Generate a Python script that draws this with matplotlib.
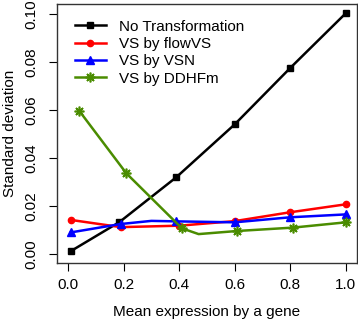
import matplotlib
matplotlib.use('Agg')
from matplotlib import pyplot

# data
x_none = [0.01, 0.185, 0.39, 0.60, 0.80, 1.00]
y_none = [0.0012, 0.0133, 0.0320, 0.0540, 0.0775, 0.1003]

x_flow = [0.01, 0.19, 0.40, 0.60, 0.80, 1.00]
y_flow = [0.0142, 0.0112, 0.0118, 0.0137, 0.0174, 0.0207]

x_vsn = [0.01, 0.19, 0.30, 0.39, 0.60, 0.80, 1.00]
y_vsn = [0.0090, 0.0125, 0.0138, 0.0136, 0.0132, 0.0153, 0.0165]

x_ddhf = [0.04, 0.21, 0.41, 0.47, 0.61, 0.81, 1.00]
y_ddhf = [0.0597, 0.0336, 0.0107, 0.0083, 0.0096, 0.0110, 0.0132]

labels = ['No Transformation', 'VS by flowVS', 'VS by VSN', 'VS by DDHFm']

pyplot.rcParams['font.family'] = ['Liberation Sans', 'DejaVu Sans']
fs = 11

fig = pyplot.figure(figsize=(3.58, 3.21), dpi=100)
ax = fig.add_axes([0.159, 0.181, 0.838, 0.807])

lw = 1.8
ax.plot(x_none, y_none, '-', color='black', lw=lw, marker='s', ms=4.5, label=labels[0])
ax.plot(x_flow, y_flow, '-', color='red', lw=lw, marker='o', ms=4.5, label=labels[1])
ax.plot(x_vsn, y_vsn, '-', color='blue', lw=lw, marker='^', ms=5.5,
        markevery=[0, 1, 3, 4, 5, 6], label=labels[2])
ax.plot(x_ddhf, y_ddhf, '-', color='#4a8c00', lw=lw, marker=(8, 2, 0), ms=7, mew=1.2,
        markevery=[0, 1, 2, 4, 5, 6], label=labels[3])

ax.set_xlim(-0.04, 1.04)
ax.set_ylim(-0.0037, 0.1042)
ax.set_xticks([0.0, 0.2, 0.4, 0.6, 0.8, 1.0])
ax.set_xticklabels(['0.0', '0.2', '0.4', '0.6', '0.8', '1.0'])
ax.set_yticks([0.0, 0.02, 0.04, 0.06, 0.08, 0.10])
ax.set_yticklabels(['0.00', '0.02', '0.04', '0.06', '0.08', '0.10'],
                   rotation=90, va='center')
ax.tick_params(axis='both', labelsize=fs, length=6, width=0.8, colors='black')
ax.tick_params(axis='x', pad=5)
ax.tick_params(axis='y', pad=7)
for s in ax.spines.values():
    s.set_color('#333333')
    s.set_linewidth(1.0)

ax.set_xlabel('Mean expression by a gene', fontsize=fs, labelpad=9)
ax.set_ylabel('Standard deviation', fontsize=fs, labelpad=6)

ax.legend(loc='upper left', frameon=False, fontsize=fs, handlelength=2.0,
          handletextpad=0.85, labelspacing=0.22, borderaxespad=0.0,
          bbox_to_anchor=(0.04, 0.963))

pyplot.savefig('out.png', dpi=100)
